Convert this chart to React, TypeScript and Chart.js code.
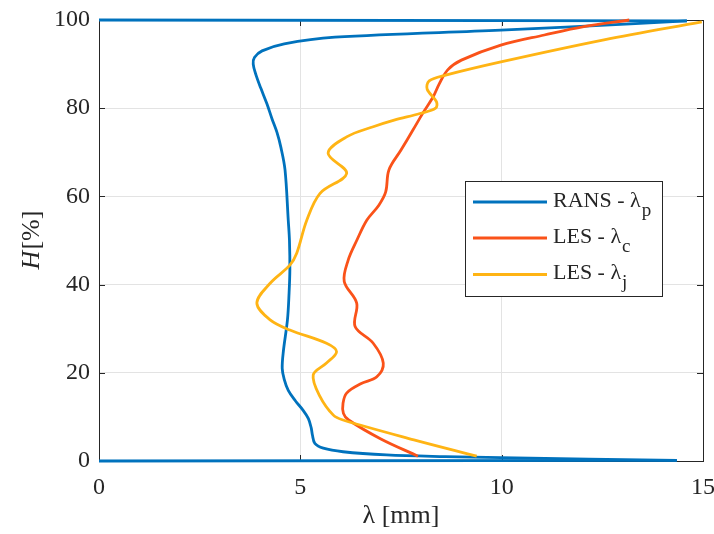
import React, { useEffect, useRef } from "react";
import { Chart, registerables } from "chart.js";

Chart.register(...registerables);

// ---- data (λ in mm, H in %) ----
const xTickValues = [0, 5, 10, 15];
const yTickValues = [0, 20, 40, 60, 80, 100];

const seriesNames = ["RANS - λ", "LES - λ", "LES - λ"];
const seriesSubs = ["p", "c", "j"];

// RANS - λp: wall segments and profile
const ransWallBottomX = [0, 14.35];
const ransWallBottomY = [0, 0.15];
const ransWallTopX = [14.6, 0];
const ransWallTopY = [99.8, 100];
const ransX = [14.35, 9.98, 8.6, 7.14, 6.06, 5.57, 5.36, 5.3, 5.27, 5.2, 5.06, 4.88, 4.7, 4.6, 4.55, 4.58, 4.68, 4.72, 4.74, 4.73, 4.7, 4.62, 4.52, 4.42, 4.3, 4.17, 4.02, 3.9, 3.83, 3.86, 4.05, 4.6, 5.86, 9.98, 13.2, 14.6];
const ransY = [0.15, 0.75, 1.0, 1.4, 2.1, 2.9, 4.0, 5.9, 7.5, 9.6, 11.6, 13.6, 16.0, 18.5, 21, 25, 32, 38, 43.3, 50, 54.6, 66, 71, 74.5, 77.5, 81, 84.5, 87.5, 90, 91.5, 93.0, 94.6, 96.1, 97.7, 99.1, 99.8];

// LES - λc
const lesCX = [7.92, 7.0, 6.2, 6.07, 6.06, 6.15, 6.5, 6.9, 7.06, 6.81, 6.36, 6.4, 6.09, 6.19, 6.4, 6.65, 6.95, 7.12, 7.2, 7.5, 7.8, 8.05, 8.3, 8.45, 8.66, 9.0, 9.98, 11.06, 12.04, 13.17];
const lesCY = [1.1, 5.0, 9.3, 10.8, 13.1, 15.4, 17.5, 19.1, 22.2, 26.7, 30.5, 35.8, 40.7, 45.6, 50, 54.6, 58, 61, 66, 70.5, 75.1, 79, 82.6, 85.5, 88.7, 90.9, 94.3, 96.6, 98.5, 100];

// LES - λj
const lesJX = [9.38, 7.82, 6.06, 5.82, 5.49, 5.32, 5.65, 5.9, 5.65, 4.74, 4.25, 3.92, 4.25, 4.74, 4.91, 5.16, 5.49, 6.15, 5.69, 6.15, 6.81, 7.33, 7.97, 8.36, 8.38, 8.15, 8.2, 8.61, 9.98, 12.54, 14.97];
const lesJY = [1.1, 4.8, 9.3, 10.4, 14.6, 19.5, 22.2, 24.8, 26.7, 29.7, 32.0, 35.8, 40.3, 44.4, 47.1, 54.6, 60.7, 65.2, 69.8, 73.5, 75.8, 77.3, 78.8, 80.0, 81.5, 84.3, 86.2, 87.5, 90.5, 95.5, 99.6];

const colors = ["#0072BD", "#FA5219", "#FFB414"];

const SERIF = "'Liberation Serif', 'Times New Roman', serif";
const AXIS_COLOR = "#262626";

function pts(xs: number[], ys: number[]) {
  return xs.map((x, i) => ({ x, y: ys[i] }));
}

const boxPlugin = {
  id: "matlabBox",
  beforeDatasetsDraw(chart: any) {
    const { ctx, chartArea } = chart;
    const { left, right, top, bottom } = chartArea;
    const xs = chart.scales.x;
    const ys = chart.scales.y;
    ctx.save();
    ctx.strokeStyle = AXIS_COLOR;
    ctx.lineWidth = 1;
    ctx.strokeRect(Math.round(left) + 0.5, Math.round(top) + 0.5, Math.round(right - left), Math.round(bottom - top));
    const tl = 6;
    ctx.beginPath();
    xTickValues.forEach((v) => {
      const px = Math.round(xs.getPixelForValue(v)) + 0.5;
      ctx.moveTo(px, bottom);
      ctx.lineTo(px, bottom - tl);
      ctx.moveTo(px, top);
      ctx.lineTo(px, top + tl);
    });
    yTickValues.forEach((v) => {
      const py = Math.round(ys.getPixelForValue(v)) + 0.5;
      ctx.moveTo(left, py);
      ctx.lineTo(left + tl, py);
      ctx.moveTo(right, py);
      ctx.lineTo(right - tl, py);
    });
    ctx.stroke();
    ctx.restore();
  },
  afterDraw(chart: any) {
    const { ctx, chartArea } = chart;
    ctx.save();
    // x axis title
    ctx.fillStyle = AXIS_COLOR;
    ctx.font = `26px ${SERIF}`;
    ctx.textAlign = "center";
    ctx.textBaseline = "alphabetic";
    ctx.fillText("λ [mm]", (chartArea.left + chartArea.right) / 2, 523);

    // y axis title (rotated, italic H)
    ctx.save();
    ctx.translate(38.5, (chartArea.top + chartArea.bottom) / 2);
    ctx.rotate(-Math.PI / 2);
    ctx.textAlign = "left";
    ctx.font = `italic 26px ${SERIF}`;
    const wH = ctx.measureText("H").width;
    ctx.font = `26px ${SERIF}`;
    const wR = ctx.measureText("[%]").width;
    const start = -(wH + wR) / 2;
    ctx.font = `italic 26px ${SERIF}`;
    ctx.fillText("H", start, 0);
    ctx.font = `26px ${SERIF}`;
    ctx.fillText("[%]", start + wH + 1, 0);
    ctx.restore();

    // legend
    const lx = 465, ly = 181, lw = 197, lh = 115;
    ctx.fillStyle = "#ffffff";
    ctx.fillRect(lx, ly, lw, lh);
    ctx.strokeStyle = AXIS_COLOR;
    ctx.lineWidth = 1;
    ctx.strokeRect(lx + 0.5, ly + 0.5, lw, lh);
    const rowY = [202, 238, 274.5];
    seriesNames.forEach((name, i) => {
      const y = rowY[i];
      ctx.strokeStyle = colors[i];
      ctx.lineWidth = 2.8;
      ctx.beginPath();
      ctx.moveTo(473, y);
      ctx.lineTo(547, y);
      ctx.stroke();
      ctx.fillStyle = AXIS_COLOR;
      ctx.textAlign = "left";
      ctx.textBaseline = "alphabetic";
      ctx.font = `22px ${SERIF}`;
      ctx.fillText(name, 553, y + 4.5);
      const w = ctx.measureText(name).width;
      ctx.font = `19px ${SERIF}`;
      ctx.fillText(seriesSubs[i], 553 + w + 1, y + 13.5);
    });
    ctx.restore();
  },
};

export default function App() {
  const canvasRef = useRef<HTMLCanvasElement | null>(null);

  useEffect(() => {
    const canvas = canvasRef.current;
    if (!canvas) return;
    const lineDs = (label: string, data: any[], color: string, tension: number) => ({
      label,
      data,
      borderColor: color,
      backgroundColor: color,
      borderWidth: 2.8,
      pointRadius: 0,
      showLine: true,
      tension,
      fill: false,
      clip: 10,
    });
    const chart = new Chart(canvas, {
      type: "scatter",
      data: {
        datasets: [
          lineDs("LES - λj", pts(lesJX, lesJY), colors[2], 0.35),
          lineDs("LES - λc", pts(lesCX, lesCY), colors[1], 0.35),
          lineDs("RANS wall bottom", pts(ransWallBottomX, ransWallBottomY), colors[0], 0),
          lineDs("RANS wall top", pts(ransWallTopX, ransWallTopY), colors[0], 0),
          lineDs("RANS - λp", pts(ransX, ransY), colors[0], 0.35),
        ],
      },
      options: {
        responsive: false,
        animation: false,
        layout: { padding: { left: 0, right: 11, top: 20, bottom: 0 } },
        plugins: {
          legend: { display: false },
          tooltip: { enabled: false },
          title: { display: false },
        },
        scales: {
          x: {
            type: "linear",
            min: 0,
            max: 15,
            afterFit: (s: any) => {
              s.height = 73;
              s.paddingLeft = 0;
              s.paddingRight = 0;
            },
            afterBuildTicks: (s: any) => {
              s.ticks = xTickValues.map((v) => ({ value: v }));
            },
            ticks: {
              font: { family: SERIF, size: 24 },
              color: AXIS_COLOR,
              padding: 12,
              maxRotation: 0,
            },
            grid: { color: "#e3e3e3", drawTicks: false, lineWidth: 1 },
            border: { display: false },
          },
          y: {
            type: "linear",
            min: 0,
            max: 100,
            afterFit: (s: any) => {
              s.width = 99;
              s.paddingTop = 0;
              s.paddingBottom = 0;
            },
            afterBuildTicks: (s: any) => {
              s.ticks = yTickValues.map((v) => ({ value: v }));
            },
            ticks: {
              font: { family: SERIF, size: 24 },
              color: AXIS_COLOR,
              padding: 9,
            },
            grid: { color: "#e3e3e3", drawTicks: false, lineWidth: 1 },
            border: { display: false },
          },
        },
      },
      plugins: [boxPlugin],
    });
    return () => chart.destroy();
  }, []);

  return (
    <div style={{ position: "fixed", left: 0, top: 0, width: 714, height: 534, background: "#ffffff" }}>
      <canvas ref={canvasRef} width={714} height={534} style={{ width: 714, height: 534, display: "block" }} />
    </div>
  );
}
